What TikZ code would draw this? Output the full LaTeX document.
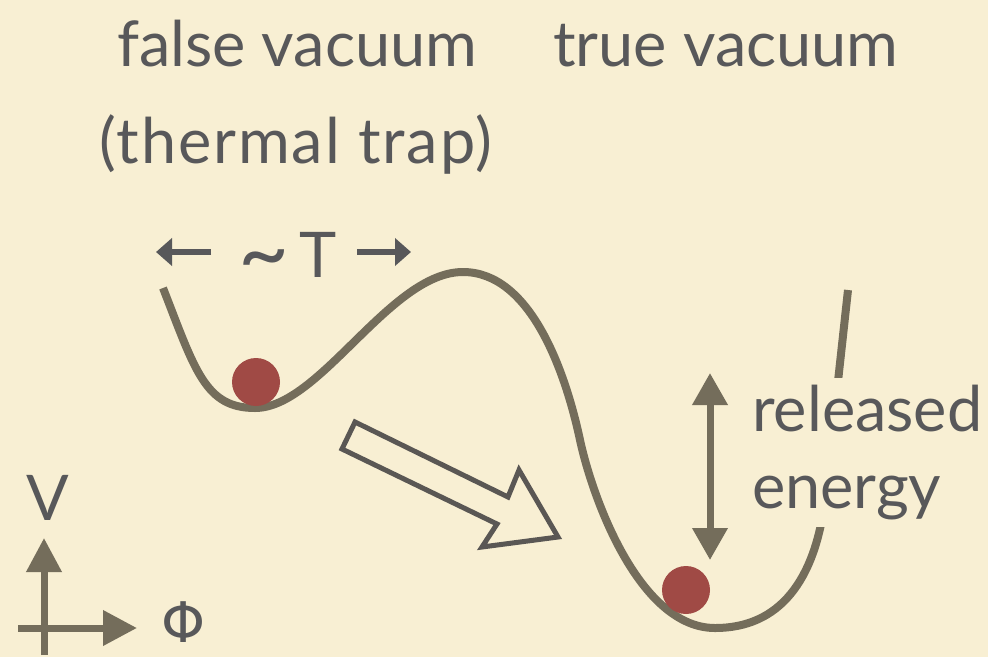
\documentclass[tikz,border=0pt]{standalone}
\usepackage{fontspec}
\setmainfont{Lato}
\newfontfamily\symfont{DejaVu Sans}
\usetikzlibrary{arrows.meta}
\definecolor{bg}{HTML}{F8EFD3}
\definecolor{curvecol}{HTML}{746D5B}
\definecolor{txt}{HTML}{58585A}
\definecolor{ball}{HTML}{A04A45}
\definecolor{hollowcol}{HTML}{5A5754}
\begin{document}
\begin{tikzpicture}[x=1pt,y=-1pt,
  lbl/.style={text=txt, font=\fontsize{63}{77}\selectfont, inner sep=0pt},
  pot/.style={draw=curvecol, line width=8pt, line cap=butt},
  ballstyle/.style={circle, fill=ball, minimum size=48pt, inner sep=0pt},
  dbl/.style={draw=curvecol, line width=7pt, {Triangle[width=34pt,length=32pt]}-{Triangle[width=34pt,length=32pt]}},
  axis/.style={draw=curvecol, line width=7pt, -{Triangle[width=34pt,length=34pt]}},
  tarrow/.style={draw=txt, line width=6pt, -{Triangle[width=27pt,length=16pt]}},
  hollowarrow/.style={draw=hollowcol, line width=5pt, line join=miter}]
\fill[bg] (0,0) rectangle (988,657);
\useasboundingbox (0,0) rectangle (988,657);

% potential curve
\draw[pot] (163,288) .. controls (195,370) and (205,408) .. (255,408)
  .. controls (320,408) and (390,272) .. (463,272)
  .. controls (530,272) and (565,370) .. (580,440)
  .. controls (593,500) and (640,628) .. (715,628)
  .. controls (780,628) and (815,580) .. (825,500)
  -- (848,290);

% balls
\node[ballstyle] (ballA) at (256,382) {};
\node[ballstyle] (ballB) at (686,590) {};

% titles
\node[lbl, anchor=base west] (fv) at (117,66) {false vacuum};
\node[lbl, anchor=base west] (tv) at (553,66) {true vacuum};
\node[lbl, anchor=base west] (tt) at (99,163) {\addfontfeature{LetterSpace=3}(thermal trap)};

% ~T with arrows
\node[lbl, anchor=base west] (width) at (238,277) {\raisebox{-6pt}{\fontsize{88}{88}\selectfont\textasciitilde}\kern10pt T};
\coordinate (wlS) at (211,252);
\coordinate (wlE) at (156,252);
\coordinate (wrS) at (357,252);
\coordinate (wrE) at (411,252);
\draw[tarrow] (wlS) -- (wlE);
\draw[tarrow] (wrS) -- (wrE);

% released energy
\coordinate (eTop) at (710,373);
\coordinate (eBot) at (710,560);
\draw[dbl] (eBot) -- (eTop);
\node[lbl, anchor=north west, fill=bg, inner xsep=2pt, inner ysep=7pt, align=left] (rel) at (750,378) {released\\energy};

% hollow arrow
\draw[hollowarrow] (355,422) -- (508,497) -- (519,470) -- (558,537) -- (482,547) -- (497,524) -- (342,449) -- cycle;

% axes
\coordinate (vBot) at (44,655);
\coordinate (vTop) at (44,538);
\coordinate (hL) at (18,628);
\coordinate (hR) at (137,628);
\draw[axis] (vBot) -- (vTop);
\draw[axis] (hL) -- (hR);
\node[lbl, anchor=base] (V) at (48,520) {V};
\node[text=txt, inner sep=0pt, font=\symfont\fontsize{56}{58}\selectfont] (Phi) at (184,622) {Φ};
\end{tikzpicture}
\end{document}
